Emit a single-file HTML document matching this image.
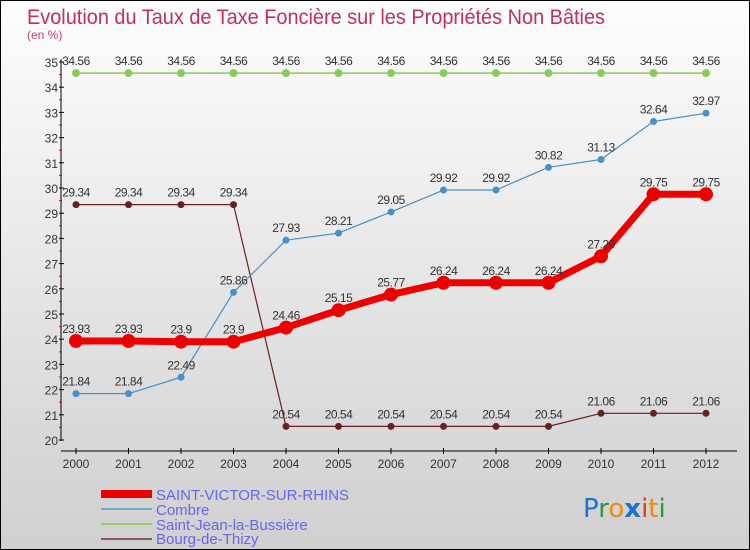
<!DOCTYPE html>
<html><head><meta charset="utf-8"><style>
body{margin:0}
#c{width:748px;height:548px;border:1px solid #000;background:linear-gradient(#fdfdfd,#f0f0f0 30%,#d8d8d8 80%,#d0d0d0);position:relative;overflow:hidden}
svg{position:absolute;left:0;top:0;font-family:"Liberation Sans",sans-serif}
</style></head><body>
<div id="c">
<svg id="s" width="748" height="548">
<text x="26" y="23" font-size="21" fill="#c0305a" textLength="578" lengthAdjust="spacingAndGlyphs">Evolution du Taux de Taxe Foncière sur les Propriétés Non Bâties</text>
<text x="26" y="38" font-size="12" fill="#c0406a">(en %)</text>
<g id="axes"></g><g id="series"></g>
<g>
<rect x="100" y="489" width="51" height="8" fill="#ee0000"/>
<text x="155" y="499" font-size="15" fill="#6666ee">SAINT-VICTOR-SUR-RHINS</text>
<rect x="100" y="507" width="51" height="2" fill="#6fa8d0"/>
<text x="155" y="514" font-size="15" fill="#6666ee">Combre</text>
<rect x="100" y="522" width="51" height="2" fill="#99cc66"/>
<text x="155" y="529" font-size="15" fill="#6666ee">Saint-Jean-la-Bussière</text>
<rect x="100" y="537" width="51" height="2" fill="#8b5a5a"/>
<text x="155" y="543" font-size="15" fill="#6666ee">Bourg-de-Thizy</text>
</g>
<g font-size="26" font-family="DejaVu Sans,sans-serif">
<text x="582" y="516"><tspan fill="#1a73d0">P</tspan><tspan fill="#2a9a3a">r</tspan><tspan fill="#f08a10">o</tspan><tspan fill="#1a73d0" font-weight="bold">x</tspan><tspan fill="#e03a10">i</tspan><tspan fill="#f08a10">t</tspan><tspan fill="#2a9a3a">i</tspan></text>
</g>
</svg></div>
<script>
const years=[2000,2001,2002,2003,2004,2005,2006,2007,2008,2009,2010,2011,2012];
const yTicks=[20,21,22,23,24,25,26,27,28,29,30,31,32,33,34,35];
const saintVictor=[23.93,23.93,23.9,23.9,24.46,25.15,25.77,26.24,26.24,26.24,27.29,29.75,29.75];
const combre=[21.84,21.84,22.49,25.86,27.93,28.21,29.05,29.92,29.92,30.82,31.13,32.64,32.97];
const saintJean=[34.56,34.56,34.56,34.56,34.56,34.56,34.56,34.56,34.56,34.56,34.56,34.56,34.56];
const bourg=[29.34,29.34,29.34,29.34,20.54,20.54,20.54,20.54,20.54,20.54,21.06,21.06,21.06];
const NS="http://www.w3.org/2000/svg";
const X=i=>75+i*52.5, Y=v=>439-(v-20)*25.2;
function mk(t,a,p){const e=document.createElementNS(NS,t);for(const k in a)e.setAttribute(k,a[k]);p.appendChild(e);return e;}
const ax=document.getElementById('axes'), sg=document.getElementById('series');
let l=mk('line',{x1:60,y1:58,x2:60,y2:440,stroke:'#000'},ax);


l=mk('line',{x1:60,y1:450,x2:736,y2:450,stroke:'#000'},ax);


yTicks.forEach(v=>{const y=Y(v);mk('line',{x1:58,y1:y,x2:63,y2:y,stroke:'#000'},ax);
 if(v<35)mk('line',{x1:58,y1:y-12.6,x2:61,y2:y-12.6,stroke:'#e00'},ax);
 const t=mk('text',{x:57,y:y+5,'font-size':12,fill:'#333','text-anchor':'end'},ax);t.textContent=v;
 
 });
years.forEach((yr,i)=>{mk('line',{x1:X(i),y1:447,x2:X(i),y2:453,stroke:'#000'},ax);
 const t=mk('text',{x:X(i),y:467,'font-size':12,fill:'#333','text-anchor':'middle'},ax);t.textContent=yr;
 
 });
function series(vals,color,w,r,name){
 const p=mk('polyline',{points:vals.map((v,i)=>X(i)+','+Y(v)).join(' '),fill:'none',stroke:color,'stroke-width':w,'stroke-linejoin':'round'},sg);
 
 
 vals.forEach((v,i)=>{const c=mk('circle',{cx:X(i),cy:Y(v),r:r,fill:color},sg);
  
  
  const t=mk('text',{x:X(i),y:Y(v)-8,'font-size':12,fill:'#333','text-anchor':'middle','letter-spacing':'-0.5'},sg);t.textContent=v;
  
  });
}
series(saintJean,'#88cc55',1.5,4,'saint-jean');
series(bourg,'#6b2020',1.2,3.5,'bourg');
series(combre,'#4a90c8',1.2,3.5,'combre');
series(saintVictor,'#ee0000',7,7,'saint-victor');
</script>
</body></html>
